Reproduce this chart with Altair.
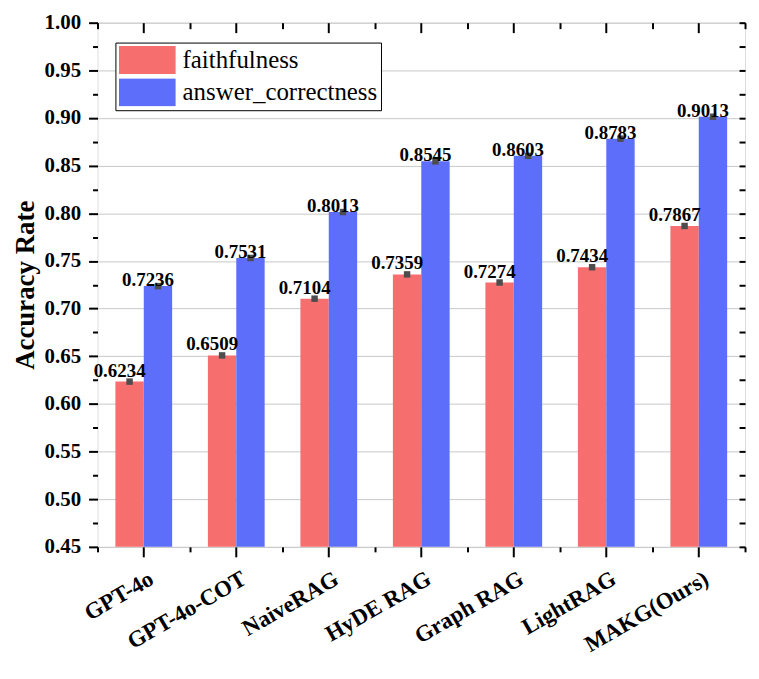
import altair as alt
import pandas as pd

models = ["GPT-4o", "GPT-4o-COT", "NaiveRAG", "HyDE RAG", "Graph RAG", "LightRAG", "MAKG(Ours)"]
metrics = ["faithfulness", "answer_correctness"]
faithfulness = [0.6234, 0.6509, 0.7104, 0.7359, 0.7274, 0.7434, 0.7867]
answer_correctness = [0.7236, 0.7531, 0.8013, 0.8545, 0.8603, 0.8783, 0.9013]
colors = ["#F76E6E", "#5C6EFA"]
major_ticks = [0.45, 0.50, 0.55, 0.60, 0.65, 0.70, 0.75, 0.80, 0.85, 0.90, 0.95, 1.00]
minor_ticks = [0.475, 0.525, 0.575, 0.625, 0.675, 0.725, 0.775, 0.825, 0.875, 0.925, 0.975]
all_ticks = sorted(major_ticks + minor_ticks)

rows = []
for m, f, a in zip(models, faithfulness, answer_correctness):
    rows.append({"model": m, "metric": "faithfulness", "value": f})
    rows.append({"model": m, "metric": "answer_correctness", "value": a})
df = pd.DataFrame(rows)

SERIF = "Liberation Serif"
W, H = 651, 527

xscale = alt.Scale(domain=models, paddingInner=0, paddingOuter=0)
xoff = alt.XOffset("metric:N", sort=metrics, scale=alt.Scale(domain=metrics, paddingInner=0, paddingOuter=0.63))
yscale = alt.Scale(domain=[0.45, 1.0], nice=False, zero=False)

def xax(**kw):
    base = dict(title=None, domain=False, grid=False, tickColor="black", tickWidth=2)
    base.update(kw)
    return alt.Axis(**base)

def yax(**kw):
    base = dict(title=None, domain=False, grid=False, tickColor="black", tickWidth=2)
    base.update(kw)
    return alt.Axis(**base)

bars = alt.Chart(df).mark_bar().encode(
    x=alt.X("model:N", sort=models, scale=xscale,
            axis=xax(orient="bottom", tickSize=10, labelAngle=-30, labelAlign="right",
                     labelBaseline="middle", labelFont=SERIF, labelFontWeight="bold",
                     labelFontSize=23, labelColor="black", labelOffset=8, labelPadding=20,
                     labelLimit=300)),
    xOffset=xoff,
    y=alt.Y("value:Q", scale=yscale,
            axis=yax(orient="left", values=major_ticks, format=".2f", tickSize=9,
                     labelFont=SERIF, labelFontWeight="bold", labelFontSize=21,
                     labelColor="black", labelPadding=8, grid=True, gridColor="#c8c8c8",
                     gridWidth=1, title="Accuracy Rate", titleFont=SERIF,
                     titleFontWeight="bold", titleFontSize=27, titleColor="black",
                     titlePadding=5)),
    y2=alt.datum(0.45),
    color=alt.Color("metric:N", sort=metrics, scale=alt.Scale(domain=metrics, range=colors),
                    legend=alt.Legend(title=None, orient="none", legendX=18, legendY=20,
                                      direction="vertical",
                                      symbolType="M-1,-0.5H1V0.5H-1Z", symbolSize=3249,
                                      symbolStrokeWidth=0, symbolOpacity=1, clipHeight=28,
                                      rowPadding=4.5, labelFont=SERIF, labelFontSize=25,
                                      labelColor="black", labelOffset=7, labelLimit=400,
                                      padding=3.5, strokeColor="black", fillColor="white")),
)

markers = alt.Chart(df).mark_square(size=42, color="#4d4d4d", opacity=1).encode(
    x=alt.X("model:N", sort=models, scale=xscale,
            axis=xax(orient="bottom", tickBand="extent", tickSize=5, labels=False)),
    xOffset=xoff,
    y=alt.Y("value:Q", scale=yscale,
            axis=yax(orient="left", values=minor_ticks, tickSize=5, labels=False)),
)

lab_f = alt.Chart(df).transform_filter(alt.datum.metric == "faithfulness").mark_text(
    dx=-10, dy=-11, font=SERIF, fontWeight="bold", fontSize=19, color="black"
).encode(
    x=alt.X("model:N", sort=models, scale=xscale,
            axis=xax(orient="top", offset=-10, tickSize=10, labels=False)),
    xOffset=xoff,
    y=alt.Y("value:Q", scale=yscale,
            axis=yax(orient="right", offset=-6, values=all_ticks, tickSize=6, labels=False)),
    text=alt.Text("value:Q", format=".4f"),
)

lab_a = alt.Chart(df).transform_filter(alt.datum.metric == "answer_correctness").mark_text(
    dx=-10, dy=-6, font=SERIF, fontWeight="bold", fontSize=19, color="black"
).encode(
    x=alt.X("model:N", sort=models, scale=xscale,
            axis=xax(orient="top", offset=-6, tickBand="extent", tickSize=6, labels=False)),
    xOffset=xoff,
    y=alt.Y("value:Q", scale=yscale, axis=None),
    text=alt.Text("value:Q", format=".4f"),
)

chart = alt.layer(bars, markers, lab_f, lab_a).resolve_axis(x="independent", y="independent").properties(
    width=W, height=H, padding={"left": 3, "top": 2, "right": 5, "bottom": 5}
).configure_view(stroke="black", strokeWidth=2).configure_legend(
    labelFont=SERIF, labelFontSize=25, labelColor="black"
).configure(background="white", font=SERIF)

chart.save("out.html", embed_options={"renderer": "svg", "actions": False})
